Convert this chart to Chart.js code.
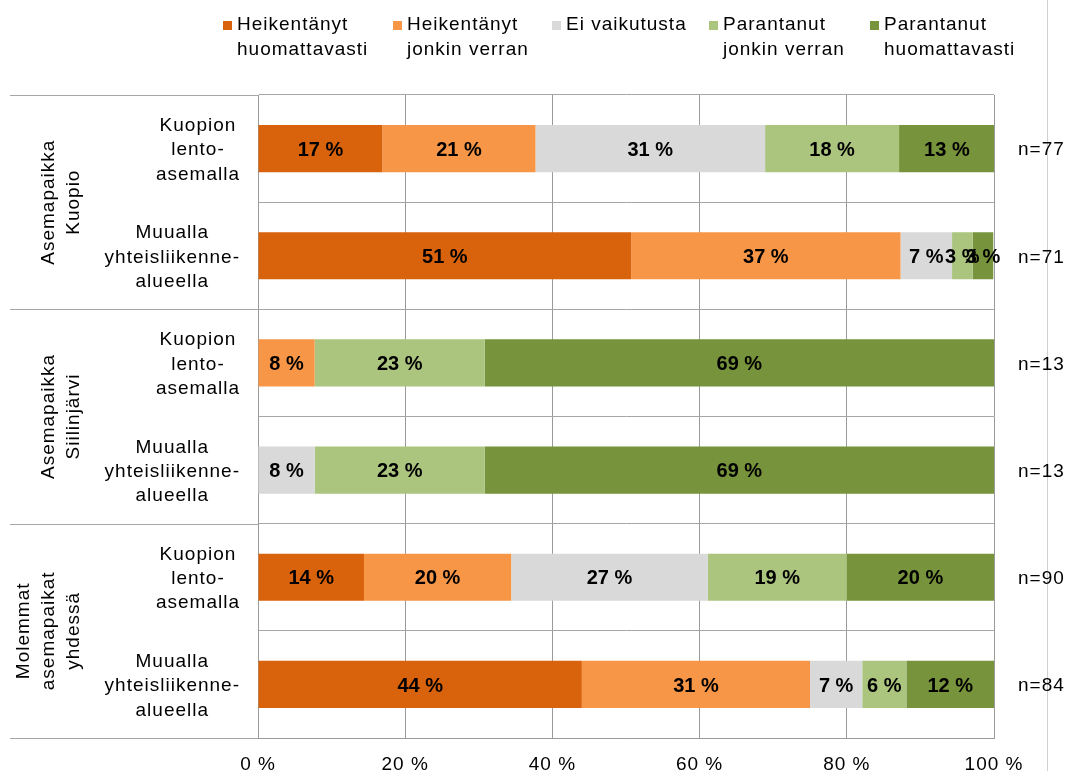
<!DOCTYPE html>
<html><head><meta charset="utf-8">
<script src="https://cdn.jsdelivr.net/npm/chart.js@4.4.1/dist/chart.umd.min.js"></script>
<style>html,body{margin:0;padding:0;background:#fff;overflow:hidden}#wrap{width:1068px;height:771px;position:relative}</style>
</head><body><div id="wrap"><canvas id="c" width="1068" height="771"></canvas></div>
<script>
// ---- data ----
const categories = [
  ["Kuopion","lento-","asemalla"],
  ["Muualla","yhteisliikenne-","alueella"],
  ["Kuopion","lento-","asemalla"],
  ["Muualla","yhteisliikenne-","alueella"],
  ["Kuopion","lento-","asemalla"],
  ["Muualla","yhteisliikenne-","alueella"]
];
const groups = [["Asemapaikka","Kuopio"],["Asemapaikka","Siilinjärvi"],["Molemmat","asemapaikat","yhdessä"]];
const groupSizes = [2,2,2];
const seriesNames = [["Heikentänyt","huomattavasti"],["Heikentänyt","jonkin verran"],["Ei vaikutusta"],["Parantanut","jonkin verran"],["Parantanut","huomattavasti"]];
const heikentanytHuom  = [16.9, 50.7, 0,    0,    14.4, 44.0];
const heikentanytJonk  = [20.8, 36.6, 7.7,  0,    20.0, 31.0];
const eiVaikutusta     = [31.2, 7.0,  0,    7.7,  26.7, 7.1];
const parantanutJonk   = [18.2, 2.8,  23.1, 23.1, 18.9, 6.0];
const parantanutHuom   = [13.0, 2.8,  69.2, 69.2, 20.0, 11.9];
const nLabels = ["n=77","n=71","n=13","n=13","n=90","n=84"];
const xTickValues = [0,20,40,60,80,100];
const seriesColors = ['#D9620C','#F79646','#D9D9D9','#ABC47E','#77933C'];

const FONT = "'Liberation Sans', Arial, sans-serif";
const series = [heikentanytHuom, heikentanytJonk, eiVaikutusta, parantanutJonk, parantanutHuom];

const spacing = {
  id:'spacing',
  beforeUpdate(chart){ chart.ctx.letterSpacing = '1px'; },
  beforeDraw(chart){
    const ctx = chart.ctx;
    ctx.letterSpacing = '1px';
    // outer right rule (behind everything)
    ctx.save();
    ctx.fillStyle = '#d0d0d0';
    ctx.fillRect(1047, 0, 1, 771);
    ctx.restore();
  }
};

const overlay = {
  id:'overlay',
  afterDatasetsDraw(chart){
    const ctx = chart.ctx;
    ctx.save();
    ctx.letterSpacing = '0px';
    ctx.font = "bold 20px " + FONT;
    ctx.fillStyle = '#000';
    ctx.textAlign = 'center';
    ctx.textBaseline = 'alphabetic';
    chart.data.datasets.forEach((ds, di) => {
      const meta = chart.getDatasetMeta(di);
      meta.data.forEach((el, i) => {
        const v = ds.data[i];
        if (!v) return;
        const p = el.getProps(['x','base','y'], true);
        ctx.fillText(Math.round(v) + ' %', (p.x + p.base) / 2, p.y + 7.2);
      });
    });
    ctx.restore();
  },
  afterDraw(chart){
    const ctx = chart.ctx, ca = chart.chartArea, ys = chart.scales.y;
    ctx.save();
    ctx.letterSpacing = '1px';
    ctx.font = "19px " + FONT;
    ctx.fillStyle = '#000';
    ctx.textBaseline = 'alphabetic';
    // category labels
    categories.forEach((lines, i) => {
      const cy = ys.getPixelForValue(i);
      const maxW = Math.max(...lines.map(l => ctx.measureText(l).width));
      const cx = 240 - maxW / 2;
      ctx.textAlign = 'center';
      lines.forEach((l, j) => {
        ctx.fillText(l, cx, cy + (j - (lines.length - 1) / 2) * 24.3 + 6.8);
      });
    });
    // n labels
    ctx.textAlign = 'left';
    nLabels.forEach((t, i) => {
      ctx.fillText(t, ca.right + 24, ys.getPixelForValue(i) + 6.8);
    });
    // group boundaries & labels
    const edge = k => k <= 0 ? ca.top : (k >= categories.length ? ca.bottom : (ys.getPixelForValue(k - 1) + ys.getPixelForValue(k)) / 2);
    ctx.fillStyle = '#a6a6a6';
    let k = 0;
    const bounds = [0];
    groupSizes.forEach(s => { k += s; bounds.push(k); });
    bounds.forEach(b => { ctx.fillRect(10, Math.round(edge(b)), ca.left - 10, 1); });
    ctx.fillStyle = '#000';
    groups.forEach((lines, g) => {
      const cy = (edge(bounds[g]) + edge(bounds[g + 1])) / 2;
      lines.forEach((l, j) => {
        const bx = 79 - (lines.length - 1 - j) * 25;
        ctx.save();
        ctx.translate(bx, cy);
        ctx.rotate(-Math.PI / 2);
        ctx.textAlign = 'center';
        ctx.fillText(l, 0, 0);
        ctx.restore();
      });
    });
    // legend
    const legendX = [223, 393, 552, 709, 870];
    seriesNames.forEach((lines, i) => {
      ctx.fillStyle = seriesColors[i];
      ctx.fillRect(legendX[i], 21, 9, 9);
      ctx.fillStyle = '#000';
      ctx.textAlign = 'left';
      lines.forEach((l, j) => ctx.fillText(l, legendX[i] + 14, 30 + j * 25));
    });
    ctx.restore();
  }
};

new Chart(document.getElementById('c'), {
  type: 'bar',
  data: {
    labels: categories,
    datasets: series.map((d, i) => ({
      label: seriesNames[i].join(' '),
      data: d,
      backgroundColor: seriesColors[i],
      borderWidth: 0,
      categoryPercentage: 1,
      barPercentage: 0.44
    }))
  },
  options: {
    indexAxis: 'y',
    responsive: false,
    animation: false,
    devicePixelRatio: 1,
    layout: { padding: { top: 95, right: 74, left: 0, bottom: 0 } },
    plugins: { legend: { display: false }, tooltip: { enabled: false } },
    scales: {
      x: {
        stacked: true, min: 0, max: 100,
        afterBuildTicks(s){ s.ticks = xTickValues.map(v => ({ value: v })); },
        afterFit(s){ s.height = 33; },
        grid: { color: '#9a9a9a', drawTicks: false },
        border: { color: '#9a9a9a' },
        ticks: { padding: 15, color: '#000', font: { family: FONT, size: 19 }, callback: v => v + ' %' }
      },
      y: {
        stacked: true,
        afterFit(s){ s.width = 258; },
        grid: { color: '#a6a6a6', drawTicks: false },
        border: { color: '#9a9a9a' },
        ticks: { display: false }
      }
    }
  },
  plugins: [spacing, overlay]
});
</script>
</body></html>
